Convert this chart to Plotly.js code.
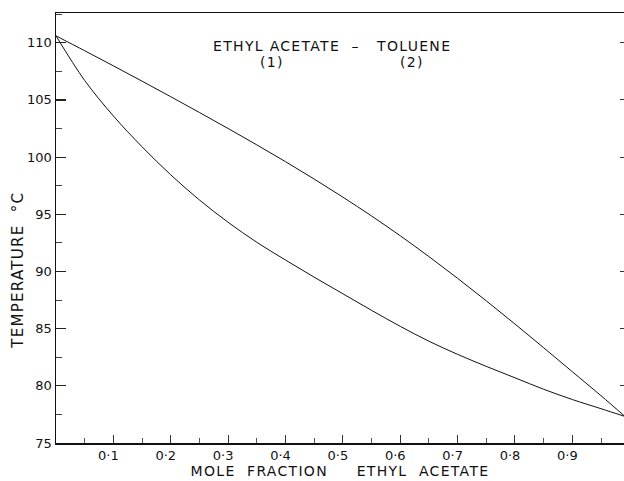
<!DOCTYPE html>
<html>
<head>
<meta charset="utf-8">
<script src="https://cdn.plot.ly/plotly-3.0.1.min.js"></script>
<style>
html,body{margin:0;padding:0;background:#fff;}
#chart{width:624px;height:481px;}
.g-xtitle text,.annotation text{letter-spacing:1.3px;}
</style>
</head>
<body>
<div id="chart"></div>
<script>
// Vapour (dew) curve: mole fraction ethyl acetate vs temperature (°C)
const vapourX = [0, 0.05, 0.1, 0.15, 0.2, 0.25, 0.3, 0.35, 0.4, 0.45, 0.5, 0.55, 0.6, 0.65, 0.7, 0.75, 0.8, 0.85, 0.9, 0.95, 0.99];
const vapourT = [110.6, 109.3, 107.98, 106.64, 105.28, 103.9, 102.5, 101.07, 99.6, 98.08, 96.5, 94.85, 93.12, 91.3, 89.4, 87.43, 85.4, 83.33, 81.23, 79.13, 77.4];
// Liquid (bubble) curve
const liquidX = [0, 0.05, 0.1, 0.15, 0.2, 0.25, 0.3, 0.35, 0.4, 0.45, 0.5, 0.55, 0.6, 0.65, 0.7, 0.75, 0.8, 0.85, 0.9, 0.95, 0.99];
const liquidT = [110.6, 106.7, 103.6, 100.9, 98.45, 96.25, 94.3, 92.55, 91.0, 89.5, 88.05, 86.6, 85.2, 83.9, 82.75, 81.7, 80.7, 79.7, 78.8, 78.0, 77.35];

const xTickVals = [0.1, 0.2, 0.3, 0.4, 0.5, 0.6, 0.7, 0.8, 0.9];
const xTickText = ["0·1", "0·2", "0·3", "0·4", "0·5", "0·6", "0·7", "0·8", "0·9"];
const yTickVals = [75, 80, 85, 90, 95, 100, 105, 110];
const yTickText = ["75", "80", "85", "90", "95", "100", "105", "110"];

const fam = "DejaVu Sans, sans-serif";
const font = {family: fam, size: 14, color: "#111"};
const lineStyle = {color: "#111", width: 1, shape: "spline", smoothing: 1};

const traces = [
  {x: vapourX, y: vapourT, mode: "lines", line: lineStyle, showlegend: false, hoverinfo: "skip"},
  {x: liquidX, y: liquidT, mode: "lines", line: lineStyle, showlegend: false, hoverinfo: "skip"},
  {x: [], y: [], yaxis: "y2", mode: "lines", showlegend: false, hoverinfo: "skip"}
];

const layout = {
  width: 624, height: 481,
  margin: {l: 56, r: 0, t: 13, b: 38},
  paper_bgcolor: "#fff", plot_bgcolor: "#fff",
  font: font,
  showlegend: false,
  xaxis: {
    range: [0, 0.99], showgrid: false, zeroline: false,
    showline: true, linecolor: "#111", linewidth: 1.5, mirror: true,
    tickmode: "array", tickvals: xTickVals, ticktext: xTickText,
    ticks: "inside", ticklen: 8, tickwidth: 1, tickcolor: "#333",
    ticklabelshift: -5,
    minor: {dtick: 0.05, tick0: 0, ticks: "inside", ticklen: 5, tickwidth: 1, tickcolor: "#555"},
    tickfont: {family: fam, size: 13, color: "#111"},
    title: {text: "MOLE  FRACTION     ETHYL  ACETATE", font: font, standoff: 3}
  },
  yaxis: {
    range: [75, 112.6], showgrid: false, zeroline: false,
    showline: true, linecolor: "#111", linewidth: 1.5,
    tickmode: "array", tickvals: yTickVals, ticktext: yTickText,
    ticks: "inside", ticklen: 10, tickwidth: 1.2, tickcolor: "#222",
    minor: {dtick: 2.5, tick0: 75, ticks: "inside", ticklen: 6, tickwidth: 1, tickcolor: "#444"},
    ticklabelstandoff: 0,
    tickfont: {family: fam, size: 13, color: "#111"}
  },
  yaxis2: {
    overlaying: "y", side: "right", range: [75, 112.6], showgrid: false, zeroline: false,
    showline: false, showticklabels: false, ticks: "inside", ticklen: 4, dtick: 5, tick0: 75, tickcolor: "#333"
  },
  annotations: [
    {xref: "paper", yref: "paper", x: 0.302, y: 0.923, text: "ETHYL ACETATE  –   TOLUENE", showarrow: false, xanchor: "left", yanchor: "middle", font: font},
    {xref: "paper", yref: "paper", x: 0.381, y: 0.886, text: "(1)", showarrow: false, xanchor: "center", yanchor: "middle", font: font},
    {xref: "paper", yref: "paper", x: 0.627, y: 0.886, text: "(2)", showarrow: false, xanchor: "center", yanchor: "middle", font: font},
    {xref: "paper", yref: "paper", x: -0.067, y: 0.402, text: "TEMPERATURE  °C", textangle: -90, showarrow: false, xanchor: "center", yanchor: "middle", font: {family: fam, size: 15, color: "#111"}}
  ]
};

Plotly.newPlot("chart", traces, layout, {displayModeBar: false, staticPlot: true});
</script>
</body>
</html>
